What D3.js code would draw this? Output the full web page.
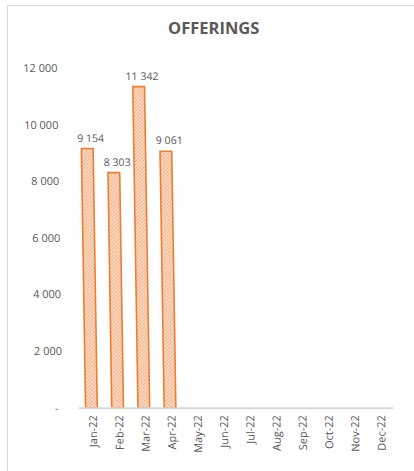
<!DOCTYPE html>
<html>
<head>
<meta charset="utf-8">
<script src="https://cdn.jsdelivr.net/npm/d3@7"></script>
<style>
  html, body { margin: 0; padding: 0; background: #fff; }
  svg { display: block; }
  text { font-family: "Open Sans", "Liberation Sans", sans-serif; fill: #595959; }
</style>
</head>
<body>
<script>
// Monthly offerings for 2022 (months without data are null)
const months = ["Jan-22", "Feb-22", "Mar-22", "Apr-22", "May-22", "Jun-22",
                "Jul-22", "Aug-22", "Sep-22", "Oct-22", "Nov-22", "Dec-22"];
const offerings = [9154, 8303, 11342, 9061, null, null, null, null, null, null, null, null];
const yTicks = [0, 2000, 4000, 6000, 8000, 10000, 12000];
const chartTitle = "OFFERINGS";

const W = 414, H = 471;
const plot = { left: 78.3, right: 392.7, top: 68, bottom: 407.7 };
const lean = 0.016; // slight slant of the plot content

const svg = d3.select("body").append("svg")
  .attr("width", W).attr("height", H);

// hatched fill for the bars
const defs = svg.append("defs");
const pat = defs.append("pattern")
  .attr("id", "hatch")
  .attr("patternUnits", "userSpaceOnUse")
  .attr("width", 3.5).attr("height", 3.5);
pat.append("rect").attr("width", 3.5).attr("height", 3.5).attr("fill", "#fde9dc");
pat.append("path")
  .attr("d", "M-1,1 L1,-1 M0,3.5 L3.5,0 M2.5,4.5 L4.5,2.5")
  .attr("stroke", "#f4a877").attr("stroke-width", 1.1);

// chart frame
svg.append("rect")
  .attr("x", 7.5).attr("y", 5.5)
  .attr("width", 430).attr("height", 490)
  .attr("fill", "none").attr("stroke", "#d9d9d9").attr("stroke-width", 1);

// title
svg.append("text")
  .attr("x", 213.7).attr("y", 34)
  .attr("text-anchor", "middle")
  .attr("font-size", "16.5px").attr("font-weight", "bold")
  .text(chartTitle);

const g = svg.append("g")
  .attr("transform", `matrix(1,0,${lean},1,${-lean * plot.bottom},0)`);

const x = d3.scaleBand()
  .domain(months)
  .range([plot.left, plot.right])
  .paddingInner(0.553)
  .paddingOuter(0.2765);

const y = d3.scaleLinear()
  .domain([0, 12000])
  .range([plot.bottom, plot.top]);

const fmt = v => v === 0 ? "-" : d3.format(",")(v).replace(/,/g, " ");

// y axis labels (no axis line)
const yAxis = g.append("g")
  .attr("transform", `translate(${plot.left},0)`)
  .call(d3.axisLeft(y).tickValues(yTicks).tickSize(0).tickPadding(15.4).tickFormat(fmt));
yAxis.select(".domain").remove();
yAxis.selectAll("text")
  .attr("font-size", "11px")
  .attr("fill", "#595959")
  .attr("font-family", "'Open Sans', sans-serif")
  .attr("dx", d => d === 0 ? -4.5 : 0);

const data = months.map((m, i) => ({ month: m, value: offerings[i] }));
const withValues = data.filter(d => d.value != null);

// bars
g.selectAll("rect.bar")
  .data(withValues)
  .join("rect")
  .attr("class", "bar")
  .attr("x", d => x(d.month))
  .attr("width", x.bandwidth())
  .attr("y", d => y(d.value))
  .attr("height", d => y(0) - y(d.value))
  .attr("fill", "url(#hatch)")
  .attr("stroke", "#ed7d31")
  .attr("stroke-width", 1.6);

// value labels
g.selectAll("text.val")
  .data(withValues)
  .join("text")
  .attr("class", "val")
  .attr("x", d => x(d.month) + x.bandwidth() / 2 + 3.5)
  .attr("y", d => y(d.value) - 7)
  .attr("text-anchor", "middle")
  .attr("font-size", "10.6px")
  .text(d => fmt(d.value));

// x axis
const xAxis = g.append("g")
  .attr("transform", `translate(0,${plot.bottom})`)
  .call(d3.axisBottom(x).tickSize(0).tickPadding(0));
xAxis.select(".domain")
  .attr("stroke", "#d9d9d9").attr("stroke-width", 2);
xAxis.selectAll("text")
  .attr("font-size", "11px")
  .attr("fill", "#595959")
  .attr("font-family", "'Open Sans', sans-serif")
  .attr("text-anchor", "end")
  .attr("transform", "rotate(-90)")
  .attr("x", -7.5)
  .attr("y", 1.5)
  .attr("dy", "0.35em");
</script>
</body>
</html>
